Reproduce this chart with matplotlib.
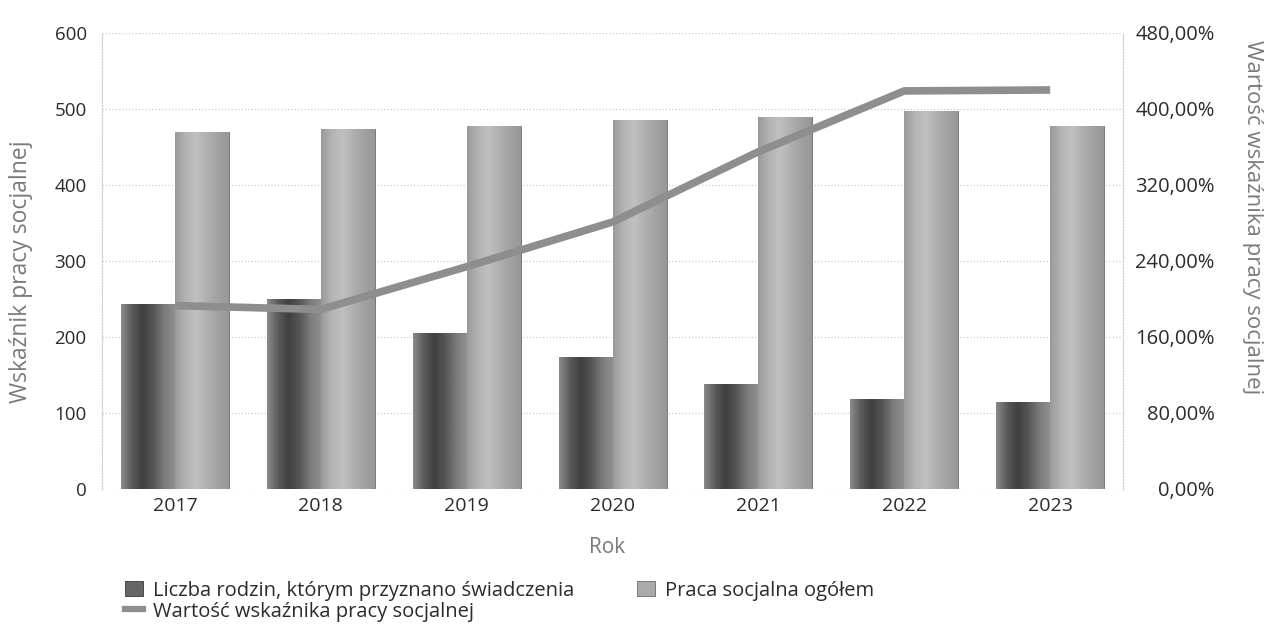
import numpy as np
import matplotlib
matplotlib.use('Agg')
import matplotlib.pyplot as plt
from matplotlib.lines import Line2D
from matplotlib.patches import Patch

plt.rcParams['font.family'] = ['Open Sans', 'DejaVu Sans']

# data
years = ['2017', '2018', '2019', '2020', '2021', '2022', '2023']
rodziny = [243, 250, 205, 173, 138, 118, 114]
praca = [470, 473, 477, 486, 489, 497, 478]
wskaznik = [193, 189, 234, 281, 355, 419, 420]

left_ticks = [0, 100, 200, 300, 400, 500, 600]
right_ticks = [0, 80, 160, 240, 320, 400, 480]

dark_grad = ['#8a8a8a', '#5a5a5a', '#404040', '#555555', '#7a7a7a', '#8f8f8f']
light_grad = ['#9a9a9a', '#b4b4b4', '#c0c0c0', '#b0b0b0', '#a2a2a2', '#989898']
line_col = '#8e8e8e'
text_col = '#2b2b2b'
title_col = '#7a7a7a'


def shade(ax, bars, colors):
    cmap = matplotlib.colors.LinearSegmentedColormap.from_list('g', colors)
    grad = np.linspace(0, 1, 64).reshape(1, -1)
    for b in bars:
        x, y = b.get_x(), b.get_y()
        w, h = b.get_width(), b.get_height()
        im = ax.imshow(grad, cmap=cmap, aspect='auto', extent=(x, x + w, y, y + h),
                       zorder=b.get_zorder() + 0.1, interpolation='bicubic')
        im.set_clip_path(b)


fig = plt.figure(figsize=(12.69, 6.29), dpi=100)
ax = fig.add_axes([0.0804, 0.2226, 0.8046, 0.725])
ax2 = ax.twinx()

x = np.arange(len(years))
w = 0.37
b1 = ax.bar(x - w / 2, rodziny, w, color='#666666', edgecolor='#3a3a3a', linewidth=0.6, zorder=2)
b2 = ax.bar(x + w / 2, praca, w, color='#aaaaaa', edgecolor='#6a6a6a', linewidth=0.6, zorder=2)
shade(ax, b1, dark_grad)
shade(ax, b2, light_grad)

ax2.plot(x, wskaznik, color=line_col, lw=5.5, solid_capstyle='butt', zorder=3)

ax.set_xlim(-0.5, len(years) - 0.5)
ax.set_ylim(0, 600)
ax2.set_ylim(0, 480)
ax.set_yticks(left_ticks)
ax2.set_yticks(right_ticks)
ax2.set_yticklabels([('%.2f%%' % v).replace('.', ',') for v in right_ticks])
ax.set_xticks(x)
ax.set_xticklabels(years)

ax.grid(axis='y', color='#cccccc', linestyle=':', linewidth=0.9, zorder=0)
ax.set_axisbelow(True)

for a in (ax, ax2):
    a.spines['top'].set_visible(False)
    a.spines['bottom'].set_visible(False)
    a.spines['left'].set_color('#cfcfcf')
    a.spines['left'].set_linestyle(':')
    a.spines['right'].set_color('#cfcfcf')
    a.spines['right'].set_linestyle(':')

ax.tick_params(axis='x', length=0, pad=6, labelsize=14, labelcolor=text_col)
ax.tick_params(axis='y', length=0, pad=11, labelsize=13.5, labelcolor=text_col)
ax2.tick_params(axis='y', length=0, pad=66, labelsize=14.5, labelcolor=text_col)
for lbl in ax2.get_yticklabels():
    lbl.set_ha('right')

ax.set_xlabel('Rok', fontsize=15, color=title_col)
ax.xaxis.set_label_coords(0.495, -0.106)
ax.set_ylabel('Wskaźnik pracy socjalnej', fontsize=16.5, color=title_col, va='center')
ax.yaxis.set_label_coords(-0.079, 0.476)
ax2.set_ylabel('Wartość wskaźnika pracy socjalnej', fontsize=16, color=title_col,
               rotation=270, va='center', ha='center')
ax2.yaxis.set_label_coords(1.127, 0.597)

handles = [Patch(facecolor='#666666', edgecolor='#3a3a3a', linewidth=0.6),
           Line2D([], [], color=line_col, lw=4.5),
           Patch(facecolor='#aaaaaa', edgecolor='#6a6a6a', linewidth=0.6)]
labels = ['Liczba rodzin, którym przyznano świadczenia',
          'Wartość wskaźnika pracy socjalnej',
          'Praca socjalna ogółem']
fig.legend(handles, labels, loc='upper left', bbox_to_anchor=(0.0985, 0.077),
           ncol=2, frameon=False, fontsize=14.5, handlelength=0.9, handleheight=0.75,
           handletextpad=0.5, labelspacing=0.05, columnspacing=3.1,
           borderpad=0, borderaxespad=0)
for t in fig.legends[0].get_texts():
    t.set_color(text_col)

fig.savefig('out.png', dpi=100)
